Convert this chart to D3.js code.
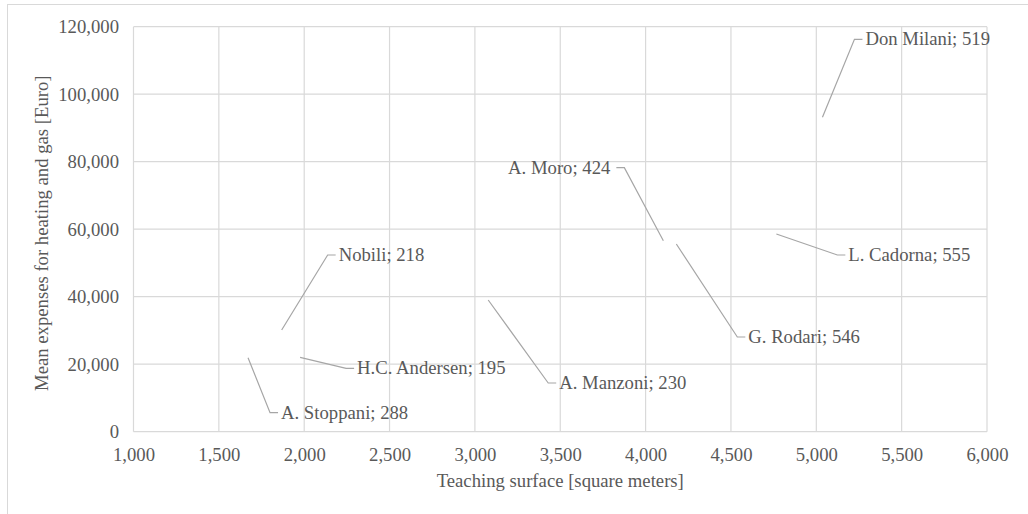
<!DOCTYPE html>
<html>
<head>
<meta charset="utf-8">
<script src="https://cdn.jsdelivr.net/npm/d3@7"></script>
<style>
  html, body { margin: 0; padding: 0; background: #fff; }
  svg { display: block; }
  text { font-family: "Liberation Serif", "Times New Roman", serif; fill: #595959; }
</style>
</head>
<body>
<svg id="chart" width="1028" height="514"></svg>
<script>
// ---- data ----
const schools = ["A. Stoppani", "Nobili", "H.C. Andersen", "A. Manzoni", "A. Moro", "G. Rodari", "L. Cadorna", "Don Milani"];
const teachingSurface = [1671, 1868, 1976, 3078, 4104, 4180, 4766, 5036];
const heatingExpenses = [21930, 30130, 22040, 39020, 56590, 55620, 58580, 93160];
const labelValues = [288, 218, 195, 230, 424, 546, 555, 519];
const xTicks = [1000, 1500, 2000, 2500, 3000, 3500, 4000, 4500, 5000, 5500, 6000];
const yTicks = [0, 20000, 40000, 60000, 80000, 100000, 120000];
// label placement relative to each point (pixels): dx to label edge, dy to label centre, side
const labelOffsets = [
  {dx: 33, dy: 55, side: "right"},
  {dx: 57, dy: -75, side: "right"},
  {dx: 57, dy: 11, side: "right"},
  {dx: 71, dy: 83, side: "right"},
  {dx: -53, dy: -73, side: "left"},
  {dx: 72, dy: 93, side: "right"},
  {dx: 72, dy: 21, side: "right"},
  {dx: 43, dy: -78, side: "right"}
];

// ---- layout ----
const svg = d3.select("#chart");
const pL = 133.5, pR = 987, pT = 26.7, pB = 431.7;
const fs = 18.7;
const x = d3.scaleLinear().domain([1000, 6000]).range([pL, pR]);
const y = d3.scaleLinear().domain([0, 120000]).range([pB, pT]);
const fmt = d3.format(",");

// outer chart border
svg.append("rect")
  .attr("x", 7.5).attr("y", 4.5).attr("width", 1030).attr("height", 520)
  .attr("fill", "none").attr("stroke", "#d9d9d9").attr("stroke-width", 1);

// gridlines
const grid = svg.append("g");
grid.selectAll("line.v").data(xTicks).join("line")
  .attr("x1", d => x(d)).attr("x2", d => x(d))
  .attr("y1", pT).attr("y2", pB)
  .attr("stroke", "#d9d9d9").attr("stroke-width", 1.2);
grid.selectAll("line.h").data(yTicks).join("line")
  .attr("x1", pL).attr("x2", pR)
  .attr("y1", d => y(d)).attr("y2", d => y(d))
  .attr("stroke", "#d9d9d9").attr("stroke-width", 1.2);

// axes
const xAxis = svg.append("g")
  .attr("transform", `translate(0,${pB})`)
  .call(d3.axisBottom(x).tickValues(xTicks).tickFormat(fmt).tickSize(0).tickPadding(16.5));
const yAxis = svg.append("g")
  .attr("transform", `translate(${pL},0)`)
  .call(d3.axisLeft(y).tickValues(yTicks).tickFormat(fmt).tickSize(0).tickPadding(14.5));
[xAxis, yAxis].forEach(a => {
  a.select(".domain").remove();
  a.selectAll("text")
    .attr("fill", "#595959")
    .style("font-family", '"Liberation Serif", "Times New Roman", serif')
    .style("font-size", fs + "px");
});

// axis titles
svg.append("text")
  .attr("x", (pL + pR) / 2).attr("y", 486.5)
  .attr("text-anchor", "middle")
  .style("font-size", fs + "px")
  .text("Teaching surface [square meters]");
svg.append("text")
  .attr("transform", `translate(48,${(pT + pB) / 2 + 4}) rotate(-90)`)
  .attr("text-anchor", "middle")
  .style("font-size", fs + "px")
  .text("Mean expenses for heating and gas [Euro]");

// points (no visible markers), leader lines and labels
const pts = schools.map((name, i) => ({
  name, xv: teachingSurface[i], yv: heatingExpenses[i], v: labelValues[i], off: labelOffsets[i]
}));

const g = svg.append("g");
pts.forEach(p => {
  const px = x(p.xv), py = y(p.yv);
  const lx = px + p.off.dx, ly = py + p.off.dy;
  const bend = p.off.side === "right" ? lx - 11 : lx + 14;
  const end = p.off.side === "right" ? lx - 3 : lx + 6;
  g.append("path")
    .attr("d", `M${px},${py}L${bend},${ly}L${end},${ly}`)
    .attr("fill", "none").attr("stroke", "#a6a6a6").attr("stroke-width", 1.2);
  g.append("text")
    .attr("x", lx).attr("y", ly + 0.33 * fs)
    .attr("text-anchor", p.off.side === "right" ? "start" : "end")
    .style("font-size", fs + "px")
    .text(`${p.name}; ${p.v}`);
});
</script>
</body>
</html>
